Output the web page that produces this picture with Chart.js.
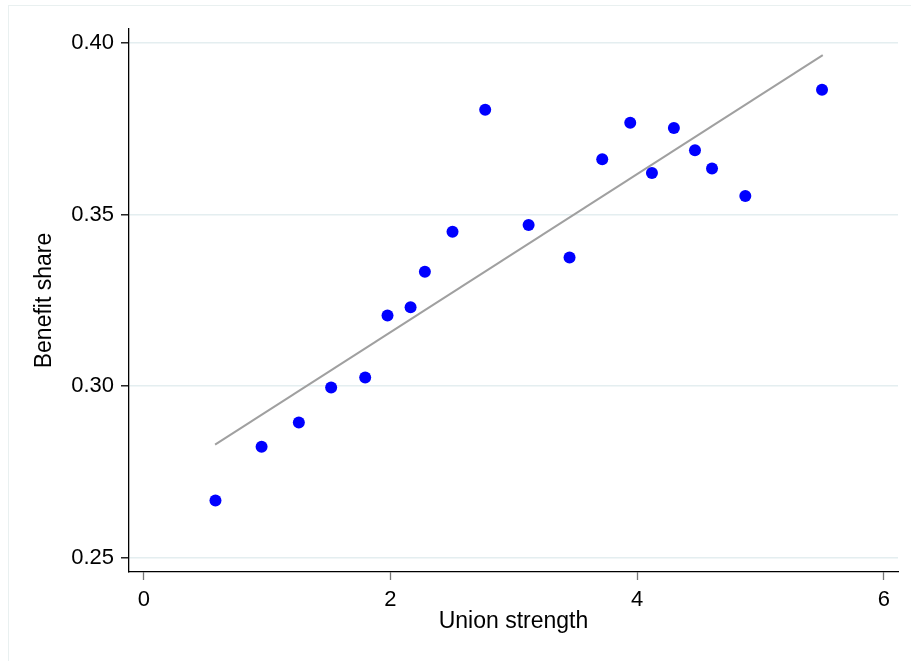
<!DOCTYPE html>
<html>
<head>
<meta charset="utf-8">
<script src="https://cdn.jsdelivr.net/npm/chart.js@4/dist/chart.umd.min.js"></script>
<style>
  html, body { margin: 0; padding: 0; background: #fff; }
  #wrap { position: relative; width: 911px; height: 661px; overflow: hidden; }
  #frame { position: absolute; left: 8px; top: 5px; width: 920px; height: 680px;
           border-left: 1px solid #e9f0f0; border-top: 1px solid #e9f0f0; box-sizing: border-box; }
  canvas { position: absolute; left: 0; top: 0; }
</style>
</head>
<body>
<div id="wrap">
  <div id="frame"></div>
  <canvas id="c" width="911" height="661"></canvas>
</div>
<script>
// Data
const unionStrength = [0.581, 0.955, 1.257, 1.519, 1.795, 1.976, 2.163, 2.279, 2.503, 2.768,
                       3.120, 3.452, 3.717, 3.944, 4.120, 4.298, 4.469, 4.607, 4.877, 5.499];
const benefitShare  = [0.2667, 0.2824, 0.2894, 0.2996, 0.3025, 0.3206, 0.3230, 0.3333, 0.3450, 0.3805,
                       0.3469, 0.3375, 0.3661, 0.3767, 0.3621, 0.3752, 0.3687, 0.3634, 0.3554, 0.3863];
const fitX = [0.578, 5.505];
const fitY = [0.2830, 0.3964];
const xTicks = [0, 2, 4, 6];
const yTicks = [0.25, 0.30, 0.35, 0.40];
const xTitle = 'Union strength';
const yTitle = 'Benefit share';

const scatterPts = unionStrength.map((x, i) => ({ x: x, y: benefitShare[i] }));
const fitPts = fitX.map((x, i) => ({ x: x, y: fitY[i] }));

const FONT = '"Liberation Sans", Arial, sans-serif';

new Chart(document.getElementById('c'), {
  type: 'scatter',
  data: {
    datasets: [
      {
        type: 'line',
        data: fitPts,
        borderColor: '#a0a0a0',
        borderWidth: 2,
        pointRadius: 0,
        fill: false,
        order: 2
      },
      {
        data: scatterPts,
        backgroundColor: '#0000ff',
        borderColor: '#0000ff',
        borderWidth: 0,
        pointRadius: 6,
        order: 1
      }
    ]
  },
  options: {
    responsive: false,
    animation: false,
    devicePixelRatio: 1,
    layout: { padding: { top: 29, right: 13, left: 0, bottom: 0 } },
    plugins: { legend: { display: false }, tooltip: { enabled: false } },
    scales: {
      x: {
        type: 'linear',
        min: -0.12,
        max: 6.115,
        afterBuildTicks: s => { s.ticks = xTicks.map(v => ({ value: v })); },
        afterFit: s => { s.height = 89; },
        border: { display: true, color: '#000', width: 1.3 },
        grid: { drawOnChartArea: false, drawTicks: true, tickLength: 8, tickColor: '#777', tickWidth: 1.3 },
        ticks: { color: '#000', font: { family: FONT, size: 22 }, padding: 7, maxRotation: 0,
                 callback: v => String(v) },
        title: { display: true, text: xTitle, color: '#000', font: { family: FONT, size: 23 },
                 padding: { top: 0, bottom: 26 } }
      },
      y: {
        type: 'linear',
        min: 0.2459,
        max: 0.404,
        afterBuildTicks: s => { s.ticks = yTicks.map(v => ({ value: v })); },
        afterFit: s => { s.width = 129; },
        border: { display: true, color: '#000', width: 1.3 },
        grid: { drawOnChartArea: true, color: '#e4eef0', lineWidth: 1.6, drawTicks: true,
                tickLength: 8, tickColor: '#000', tickWidth: 1.3 },
        ticks: { color: '#000', font: { family: FONT, size: 22 }, padding: 7,
                 callback: v => v.toFixed(2) },
        title: { display: true, text: yTitle, color: '#000', font: { family: FONT, size: 23 },
                 padding: { top: 31, bottom: 0 } }
      }
    }
  }
});
</script>
</body>
</html>
